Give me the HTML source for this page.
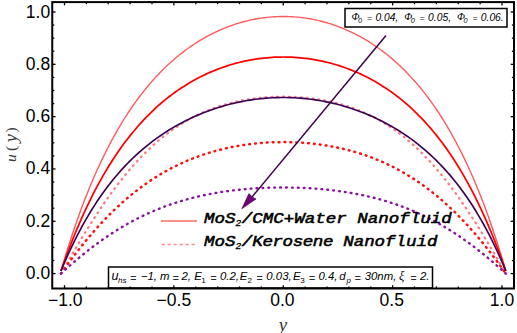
<!DOCTYPE html>
<html><head><meta charset="utf-8"><style>
html,body{margin:0;padding:0;background:#fff;}
body{width:517px;height:333px;overflow:hidden;position:relative;}
svg{position:absolute;left:0;top:0;}
</style></head><body>
<svg width="517" height="333" viewBox="0 0 517 333">
<rect width="517" height="333" fill="#fff"/>
<g font-family="Liberation Sans, sans-serif" font-size="17.5" fill="#000"><text x="50.2" y="279.10" text-anchor="end">0.0</text><text x="50.2" y="226.78" text-anchor="end">0.2</text><text x="50.2" y="174.46" text-anchor="end">0.4</text><text x="50.2" y="122.14" text-anchor="end">0.6</text><text x="50.2" y="69.82" text-anchor="end">0.8</text><text x="50.2" y="17.50" text-anchor="end">1.0</text><text x="65.30" y="305.5" text-anchor="middle">−1.0</text><text x="173.88" y="305.5" text-anchor="middle">−0.5</text><text x="282.35" y="305.5" text-anchor="middle">0.0</text><text x="391.73" y="305.5" text-anchor="middle">0.5</text><text x="502.00" y="305.5" text-anchor="middle">1.0</text></g>
<path d="M61.00,273.60 L63.78,268.74 L66.56,263.90 L69.34,259.09 L72.12,254.32 L74.90,249.58 L77.68,244.89 L80.46,240.24 L83.24,235.65 L86.02,231.12 L88.80,226.64 L91.58,222.24 L94.36,217.90 L97.14,213.63 L99.92,209.44 L102.70,205.32 L105.48,201.28 L108.26,197.32 L111.04,193.44 L113.82,189.65 L116.60,185.94 L119.38,182.32 L122.16,178.78 L124.94,175.33 L127.72,171.97 L130.50,168.69 L133.28,165.51 L136.06,162.41 L138.84,159.40 L141.62,156.47 L144.40,153.64 L147.18,150.89 L149.96,148.23 L152.74,145.65 L155.52,143.15 L158.30,140.74 L161.08,138.41 L163.86,136.17 L166.64,134.00 L169.42,131.91 L172.20,129.90 L174.98,127.97 L177.76,126.11 L180.54,124.32 L183.32,122.61 L186.10,120.97 L188.88,119.39 L191.66,117.88 L194.44,116.44 L197.22,115.07 L200.00,113.75 L202.78,112.50 L205.56,111.30 L208.34,110.17 L211.12,109.09 L213.90,108.06 L216.68,107.09 L219.46,106.17 L222.24,105.30 L225.02,104.48 L227.80,103.71 L230.58,102.99 L233.36,102.31 L236.14,101.67 L238.92,101.08 L241.70,100.53 L244.48,100.02 L247.26,99.55 L250.04,99.11 L252.82,98.72 L255.60,98.36 L258.38,98.04 L261.16,97.76 L263.94,97.51 L266.72,97.29 L269.50,97.11 L272.28,96.96 L275.06,96.85 L277.84,96.77 L280.62,96.72 L283.40,96.70 L286.18,96.72 L288.96,96.77 L291.74,96.85 L294.52,96.96 L297.30,97.11 L300.08,97.29 L302.86,97.51 L305.64,97.76 L308.42,98.04 L311.20,98.36 L313.98,98.72 L316.76,99.11 L319.54,99.55 L322.32,100.02 L325.10,100.53 L327.88,101.08 L330.66,101.67 L333.44,102.31 L336.22,102.99 L339.00,103.71 L341.78,104.48 L344.56,105.30 L347.34,106.17 L350.12,107.09 L352.90,108.06 L355.68,109.09 L358.46,110.17 L361.24,111.30 L364.02,112.50 L366.80,113.75 L369.58,115.07 L372.36,116.44 L375.14,117.88 L377.92,119.39 L380.70,120.97 L383.48,122.61 L386.26,124.32 L389.04,126.11 L391.82,127.97 L394.60,129.90 L397.38,131.91 L400.16,134.00 L402.94,136.17 L405.72,138.41 L408.50,140.74 L411.28,143.15 L414.06,145.65 L416.84,148.23 L419.62,150.89 L422.40,153.64 L425.18,156.47 L427.96,159.40 L430.74,162.41 L433.52,165.51 L436.30,168.69 L439.08,171.97 L441.86,175.33 L444.64,178.78 L447.42,182.32 L450.20,185.94 L452.98,189.65 L455.76,193.44 L458.54,197.32 L461.32,201.28 L464.10,205.32 L466.88,209.44 L469.66,213.63 L472.44,217.90 L475.22,222.24 L478.00,226.64 L480.78,231.12 L483.56,235.65 L486.34,240.24 L489.12,244.89 L491.90,249.58 L494.68,254.32 L497.46,259.09 L500.24,263.90 L503.02,268.74 L505.80,273.60" fill="none" stroke="#ff7884" stroke-width="2.25" stroke-dasharray="0.8 5.1" stroke-linecap="round"/><path d="M61.00,273.60 L63.78,269.65 L66.56,265.78 L69.34,261.97 L72.12,258.22 L74.90,254.55 L77.68,250.94 L80.46,247.41 L83.24,243.94 L86.02,240.54 L88.80,237.22 L91.58,233.96 L94.36,230.77 L97.14,227.65 L99.92,224.60 L102.70,221.61 L105.48,218.70 L108.26,215.85 L111.04,213.07 L113.82,210.36 L116.60,207.72 L119.38,205.14 L122.16,202.63 L124.94,200.18 L127.72,197.79 L130.50,195.47 L133.28,193.22 L136.06,191.02 L138.84,188.89 L141.62,186.81 L144.40,184.80 L147.18,182.85 L149.96,180.95 L152.74,179.11 L155.52,177.33 L158.30,175.60 L161.08,173.93 L163.86,172.31 L166.64,170.74 L169.42,169.23 L172.20,167.77 L174.98,166.36 L177.76,164.99 L180.54,163.68 L183.32,162.41 L186.10,161.19 L188.88,160.02 L191.66,158.89 L194.44,157.80 L197.22,156.76 L200.00,155.76 L202.78,154.80 L205.56,153.88 L208.34,153.00 L211.12,152.16 L213.90,151.36 L216.68,150.60 L219.46,149.87 L222.24,149.18 L225.02,148.53 L227.80,147.91 L230.58,147.32 L233.36,146.77 L236.14,146.25 L238.92,145.77 L241.70,145.31 L244.48,144.89 L247.26,144.50 L250.04,144.14 L252.82,143.81 L255.60,143.51 L258.38,143.24 L261.16,143.00 L263.94,142.79 L266.72,142.60 L269.50,142.45 L272.28,142.32 L275.06,142.23 L277.84,142.16 L280.62,142.11 L283.40,142.10 L286.18,142.11 L288.96,142.16 L291.74,142.23 L294.52,142.32 L297.30,142.45 L300.08,142.60 L302.86,142.79 L305.64,143.00 L308.42,143.24 L311.20,143.51 L313.98,143.81 L316.76,144.14 L319.54,144.50 L322.32,144.89 L325.10,145.31 L327.88,145.77 L330.66,146.25 L333.44,146.77 L336.22,147.32 L339.00,147.91 L341.78,148.53 L344.56,149.18 L347.34,149.87 L350.12,150.60 L352.90,151.36 L355.68,152.16 L358.46,153.00 L361.24,153.88 L364.02,154.80 L366.80,155.76 L369.58,156.76 L372.36,157.80 L375.14,158.89 L377.92,160.02 L380.70,161.19 L383.48,162.41 L386.26,163.68 L389.04,164.99 L391.82,166.36 L394.60,167.77 L397.38,169.23 L400.16,170.74 L402.94,172.31 L405.72,173.93 L408.50,175.60 L411.28,177.33 L414.06,179.11 L416.84,180.95 L419.62,182.85 L422.40,184.80 L425.18,186.81 L427.96,188.89 L430.74,191.02 L433.52,193.22 L436.30,195.47 L439.08,197.79 L441.86,200.18 L444.64,202.63 L447.42,205.14 L450.20,207.72 L452.98,210.36 L455.76,213.07 L458.54,215.85 L461.32,218.70 L464.10,221.61 L466.88,224.60 L469.66,227.65 L472.44,230.77 L475.22,233.96 L478.00,237.22 L480.78,240.54 L483.56,243.94 L486.34,247.41 L489.12,250.94 L491.90,254.55 L494.68,258.22 L497.46,261.97 L500.24,265.78 L503.02,269.65 L505.80,273.60" fill="none" stroke="#ff1010" stroke-width="2.5" stroke-dasharray="0.8 5.1" stroke-linecap="round"/><path d="M61.00,273.60 L63.78,271.06 L66.56,268.56 L69.34,266.09 L72.12,263.66 L74.90,261.26 L77.68,258.91 L80.46,256.59 L83.24,254.32 L86.02,252.09 L88.80,249.89 L91.58,247.74 L94.36,245.64 L97.14,243.57 L99.92,241.55 L102.70,239.57 L105.48,237.64 L108.26,235.75 L111.04,233.90 L113.82,232.10 L116.60,230.34 L119.38,228.62 L122.16,226.95 L124.94,225.32 L127.72,223.74 L130.50,222.19 L133.28,220.69 L136.06,219.23 L138.84,217.82 L141.62,216.44 L144.40,215.11 L147.18,213.81 L149.96,212.56 L152.74,211.34 L155.52,210.16 L158.30,209.02 L161.08,207.92 L163.86,206.86 L166.64,205.83 L169.42,204.84 L172.20,203.88 L174.98,202.96 L177.76,202.07 L180.54,201.21 L183.32,200.39 L186.10,199.60 L188.88,198.83 L191.66,198.10 L194.44,197.40 L197.22,196.73 L200.00,196.09 L202.78,195.48 L205.56,194.89 L208.34,194.33 L211.12,193.80 L213.90,193.29 L216.68,192.80 L219.46,192.34 L222.24,191.91 L225.02,191.50 L227.80,191.11 L230.58,190.74 L233.36,190.39 L236.14,190.07 L238.92,189.77 L241.70,189.49 L244.48,189.22 L247.26,188.98 L250.04,188.76 L252.82,188.55 L255.60,188.37 L258.38,188.20 L261.16,188.05 L263.94,187.92 L266.72,187.81 L269.50,187.72 L272.28,187.64 L275.06,187.58 L277.84,187.53 L280.62,187.51 L283.40,187.50 L286.18,187.51 L288.96,187.53 L291.74,187.58 L294.52,187.64 L297.30,187.72 L300.08,187.81 L302.86,187.92 L305.64,188.05 L308.42,188.20 L311.20,188.37 L313.98,188.55 L316.76,188.76 L319.54,188.98 L322.32,189.22 L325.10,189.49 L327.88,189.77 L330.66,190.07 L333.44,190.39 L336.22,190.74 L339.00,191.11 L341.78,191.50 L344.56,191.91 L347.34,192.34 L350.12,192.80 L352.90,193.29 L355.68,193.80 L358.46,194.33 L361.24,194.89 L364.02,195.48 L366.80,196.09 L369.58,196.73 L372.36,197.40 L375.14,198.10 L377.92,198.83 L380.70,199.60 L383.48,200.39 L386.26,201.21 L389.04,202.07 L391.82,202.96 L394.60,203.88 L397.38,204.84 L400.16,205.83 L402.94,206.86 L405.72,207.92 L408.50,209.02 L411.28,210.16 L414.06,211.34 L416.84,212.56 L419.62,213.81 L422.40,215.11 L425.18,216.44 L427.96,217.82 L430.74,219.23 L433.52,220.69 L436.30,222.19 L439.08,223.74 L441.86,225.32 L444.64,226.95 L447.42,228.62 L450.20,230.34 L452.98,232.10 L455.76,233.90 L458.54,235.75 L461.32,237.64 L464.10,239.57 L466.88,241.55 L469.66,243.57 L472.44,245.64 L475.22,247.74 L478.00,249.89 L480.78,252.09 L483.56,254.32 L486.34,256.59 L489.12,258.91 L491.90,261.26 L494.68,263.66 L497.46,266.09 L500.24,268.56 L503.02,271.06 L505.80,273.60" fill="none" stroke="#8a12a0" stroke-width="2.4" stroke-dasharray="0.8 5.1" stroke-linecap="round"/><path d="M61.00,270.90 L63.78,261.45 L66.56,252.31 L69.34,243.48 L72.12,234.95 L74.90,226.71 L77.68,218.75 L80.46,211.05 L83.24,203.62 L86.02,196.43 L88.80,189.49 L91.58,182.77 L94.36,176.29 L97.14,170.02 L99.92,163.96 L102.70,158.10 L105.48,152.44 L108.26,146.97 L111.04,141.67 L113.82,136.56 L116.60,131.62 L119.38,126.83 L122.16,122.21 L124.94,117.75 L127.72,113.43 L130.50,109.25 L133.28,105.21 L136.06,101.31 L138.84,97.53 L141.62,93.89 L144.40,90.36 L147.18,86.95 L149.96,83.65 L152.74,80.47 L155.52,77.39 L158.30,74.42 L161.08,71.54 L163.86,68.77 L166.64,66.09 L169.42,63.50 L172.20,61.00 L174.98,58.59 L177.76,56.26 L180.54,54.02 L183.32,51.86 L186.10,49.77 L188.88,47.77 L191.66,45.83 L194.44,43.97 L197.22,42.18 L200.00,40.47 L202.78,38.82 L205.56,37.23 L208.34,35.72 L211.12,34.27 L213.90,32.88 L216.68,31.55 L219.46,30.29 L222.24,29.08 L225.02,27.94 L227.80,26.85 L230.58,25.82 L233.36,24.85 L236.14,23.93 L238.92,23.07 L241.70,22.27 L244.48,21.51 L247.26,20.82 L250.04,20.17 L252.82,19.58 L255.60,19.05 L258.38,18.56 L261.16,18.13 L263.94,17.74 L266.72,17.41 L269.50,17.13 L272.28,16.91 L275.06,16.73 L277.84,16.60 L280.62,16.53 L283.40,16.50 L286.18,16.53 L288.96,16.60 L291.74,16.73 L294.52,16.91 L297.30,17.13 L300.08,17.41 L302.86,17.74 L305.64,18.13 L308.42,18.56 L311.20,19.05 L313.98,19.58 L316.76,20.17 L319.54,20.82 L322.32,21.51 L325.10,22.27 L327.88,23.07 L330.66,23.93 L333.44,24.85 L336.22,25.82 L339.00,26.85 L341.78,27.94 L344.56,29.08 L347.34,30.29 L350.12,31.55 L352.90,32.88 L355.68,34.27 L358.46,35.72 L361.24,37.23 L364.02,38.82 L366.80,40.47 L369.58,42.18 L372.36,43.97 L375.14,45.83 L377.92,47.77 L380.70,49.77 L383.48,51.86 L386.26,54.02 L389.04,56.26 L391.82,58.59 L394.60,61.00 L397.38,63.50 L400.16,66.09 L402.94,68.77 L405.72,71.54 L408.50,74.42 L411.28,77.39 L414.06,80.47 L416.84,83.65 L419.62,86.95 L422.40,90.36 L425.18,93.89 L427.96,97.53 L430.74,101.31 L433.52,105.21 L436.30,109.25 L439.08,113.43 L441.86,117.75 L444.64,122.21 L447.42,126.83 L450.20,131.62 L452.98,136.56 L455.76,141.67 L458.54,146.97 L461.32,152.44 L464.10,158.10 L466.88,163.96 L469.66,170.02 L472.44,176.29 L475.22,182.77 L478.00,189.49 L480.78,196.43 L483.56,203.62 L486.34,211.05 L489.12,218.75 L491.90,226.71 L494.68,234.95 L497.46,243.48 L500.24,252.31 L503.02,261.45 L505.80,270.90" fill="none" stroke="#ff5a5e" stroke-width="1.4"/><path d="M61.00,270.90 L63.78,263.02 L66.56,255.40 L69.34,248.02 L72.12,240.90 L74.90,234.00 L77.68,227.33 L80.46,220.89 L83.24,214.65 L86.02,208.62 L88.80,202.79 L91.58,197.15 L94.36,191.70 L97.14,186.42 L99.92,181.32 L102.70,176.39 L105.48,171.61 L108.26,167.00 L111.04,162.54 L113.82,158.22 L116.60,154.05 L119.38,150.01 L122.16,146.11 L124.94,142.33 L127.72,138.68 L130.50,135.15 L133.28,131.74 L136.06,128.44 L138.84,125.25 L141.62,122.16 L144.40,119.18 L147.18,116.30 L149.96,113.51 L152.74,110.82 L155.52,108.21 L158.30,105.70 L161.08,103.27 L163.86,100.93 L166.64,98.66 L169.42,96.48 L172.20,94.37 L174.98,92.33 L177.76,90.37 L180.54,88.48 L183.32,86.65 L186.10,84.90 L188.88,83.21 L191.66,81.58 L194.44,80.01 L197.22,78.51 L200.00,77.06 L202.78,75.68 L205.56,74.35 L208.34,73.07 L211.12,71.86 L213.90,70.69 L216.68,69.58 L219.46,68.52 L222.24,67.51 L225.02,66.55 L227.80,65.64 L230.58,64.78 L233.36,63.97 L236.14,63.20 L238.92,62.48 L241.70,61.81 L244.48,61.18 L247.26,60.60 L250.04,60.06 L252.82,59.57 L255.60,59.12 L258.38,58.72 L261.16,58.35 L263.94,58.04 L266.72,57.76 L269.50,57.53 L272.28,57.34 L275.06,57.19 L277.84,57.08 L280.62,57.02 L283.40,57.00 L286.18,57.02 L288.96,57.08 L291.74,57.19 L294.52,57.34 L297.30,57.53 L300.08,57.76 L302.86,58.04 L305.64,58.35 L308.42,58.72 L311.20,59.12 L313.98,59.57 L316.76,60.06 L319.54,60.60 L322.32,61.18 L325.10,61.81 L327.88,62.48 L330.66,63.20 L333.44,63.97 L336.22,64.78 L339.00,65.64 L341.78,66.55 L344.56,67.51 L347.34,68.52 L350.12,69.58 L352.90,70.69 L355.68,71.86 L358.46,73.07 L361.24,74.35 L364.02,75.68 L366.80,77.06 L369.58,78.51 L372.36,80.01 L375.14,81.58 L377.92,83.21 L380.70,84.90 L383.48,86.65 L386.26,88.48 L389.04,90.37 L391.82,92.33 L394.60,94.37 L397.38,96.48 L400.16,98.66 L402.94,100.93 L405.72,103.27 L408.50,105.70 L411.28,108.21 L414.06,110.82 L416.84,113.51 L419.62,116.30 L422.40,119.18 L425.18,122.16 L427.96,125.25 L430.74,128.44 L433.52,131.74 L436.30,135.15 L439.08,138.68 L441.86,142.33 L444.64,146.11 L447.42,150.01 L450.20,154.05 L452.98,158.22 L455.76,162.54 L458.54,167.00 L461.32,171.61 L464.10,176.39 L466.88,181.32 L469.66,186.42 L472.44,191.70 L475.22,197.15 L478.00,202.79 L480.78,208.62 L483.56,214.65 L486.34,220.89 L489.12,227.33 L491.90,234.00 L494.68,240.90 L497.46,248.02 L500.24,255.40 L503.02,263.02 L505.80,270.90" fill="none" stroke="#ff0000" stroke-width="1.75"/><path d="M61.00,270.90 L63.78,264.28 L66.56,257.90 L69.34,251.75 L72.12,245.83 L74.90,240.13 L77.68,234.63 L80.46,229.33 L83.24,224.23 L86.02,219.30 L88.80,214.56 L91.58,209.98 L94.36,205.57 L97.14,201.31 L99.92,197.20 L102.70,193.24 L105.48,189.42 L108.26,185.73 L111.04,182.17 L113.82,178.73 L116.60,175.41 L119.38,172.20 L122.16,169.11 L124.94,166.12 L127.72,163.23 L130.50,160.43 L133.28,157.74 L136.06,155.13 L138.84,152.61 L141.62,150.17 L144.40,147.81 L147.18,145.53 L149.96,143.33 L152.74,141.20 L155.52,139.14 L158.30,137.15 L161.08,135.22 L163.86,133.36 L166.64,131.56 L169.42,129.82 L172.20,128.13 L174.98,126.51 L177.76,124.94 L180.54,123.42 L183.32,121.95 L186.10,120.54 L188.88,119.18 L191.66,117.86 L194.44,116.59 L197.22,115.37 L200.00,114.19 L202.78,113.06 L205.56,111.97 L208.34,110.93 L211.12,109.93 L213.90,108.97 L216.68,108.05 L219.46,107.17 L222.24,106.34 L225.02,105.54 L227.80,104.78 L230.58,104.06 L233.36,103.38 L236.14,102.74 L238.92,102.14 L241.70,101.57 L244.48,101.05 L247.26,100.55 L250.04,100.10 L252.82,99.68 L255.60,99.30 L258.38,98.96 L261.16,98.65 L263.94,98.38 L266.72,98.15 L269.50,97.95 L272.28,97.79 L275.06,97.66 L277.84,97.57 L280.62,97.52 L283.40,97.50 L286.18,97.52 L288.96,97.57 L291.74,97.66 L294.52,97.79 L297.30,97.95 L300.08,98.15 L302.86,98.38 L305.64,98.65 L308.42,98.96 L311.20,99.30 L313.98,99.68 L316.76,100.10 L319.54,100.55 L322.32,101.05 L325.10,101.57 L327.88,102.14 L330.66,102.74 L333.44,103.38 L336.22,104.06 L339.00,104.78 L341.78,105.54 L344.56,106.34 L347.34,107.17 L350.12,108.05 L352.90,108.97 L355.68,109.93 L358.46,110.93 L361.24,111.97 L364.02,113.06 L366.80,114.19 L369.58,115.37 L372.36,116.59 L375.14,117.86 L377.92,119.18 L380.70,120.54 L383.48,121.95 L386.26,123.42 L389.04,124.94 L391.82,126.51 L394.60,128.13 L397.38,129.82 L400.16,131.56 L402.94,133.36 L405.72,135.22 L408.50,137.15 L411.28,139.14 L414.06,141.20 L416.84,143.33 L419.62,145.53 L422.40,147.81 L425.18,150.17 L427.96,152.61 L430.74,155.13 L433.52,157.74 L436.30,160.43 L439.08,163.23 L441.86,166.12 L444.64,169.11 L447.42,172.20 L450.20,175.41 L452.98,178.73 L455.76,182.17 L458.54,185.73 L461.32,189.42 L464.10,193.24 L466.88,197.20 L469.66,201.31 L472.44,205.57 L475.22,209.98 L478.00,214.56 L480.78,219.30 L483.56,224.23 L486.34,229.33 L489.12,234.63 L491.90,240.13 L494.68,245.83 L497.46,251.75 L500.24,257.90 L503.02,264.28 L505.80,270.90" fill="none" stroke="#3c0052" stroke-width="1.65"/>
<!-- arrow -->
<line x1="386" y1="35.4" x2="252" y2="197" stroke="#3e0046" stroke-width="1.5"/>
<path d="M241.8,208.8 L248.9,193.5 L252.6,197.2 L256,199 Z" fill="#6e0072" stroke="#4a004e" stroke-width="0.6" stroke-linejoin="round"/>
<!-- top box -->
<rect x="345" y="8.5" width="162" height="18.5" fill="#fff" stroke="#000" stroke-width="1.5"/>
<text x="351.6" y="19.8" font-family="Liberation Serif, serif" font-style="italic" font-size="10.5">&#934;</text><text x="358.0" y="22.6" font-family="Liberation Sans, sans-serif" font-style="italic" font-size="7.2">0</text><text x="367.0" y="20.7" font-family="Liberation Sans, sans-serif" font-size="8.8" fill="#222">=</text><text x="375.4" y="20.8" font-family="Liberation Sans, sans-serif" font-style="italic" font-size="10.3">0.04,</text><text x="404.3" y="19.8" font-family="Liberation Serif, serif" font-style="italic" font-size="10.5">&#934;</text><text x="410.7" y="22.6" font-family="Liberation Sans, sans-serif" font-style="italic" font-size="7.2">0</text><text x="419.7" y="20.7" font-family="Liberation Sans, sans-serif" font-size="8.8" fill="#222">=</text><text x="428.1" y="20.8" font-family="Liberation Sans, sans-serif" font-style="italic" font-size="10.3">0.05,</text><text x="457.0" y="19.8" font-family="Liberation Serif, serif" font-style="italic" font-size="10.5">&#934;</text><text x="463.4" y="22.6" font-family="Liberation Sans, sans-serif" font-style="italic" font-size="7.2">0</text><text x="472.4" y="20.7" font-family="Liberation Sans, sans-serif" font-size="8.8" fill="#222">=</text><text x="480.8" y="20.8" font-family="Liberation Sans, sans-serif" font-style="italic" font-size="10.3">0.06.</text>
<!-- bottom box -->
<rect x="108.5" y="267" width="324" height="21" fill="#fff" stroke="#000" stroke-width="1.5"/>
<g class="bb" font-family="Liberation Sans, sans-serif" fill="#000"><text x="111.5" y="280.4" font-style="italic" font-size="12.5">u</text><text x="118.0" y="282.7" font-style="italic" font-size="8">hs</text><text x="130.2" y="281.5" font-size="10.6" fill="#2a2a2a">=</text><text x="140.8" y="280.4" font-style="italic" font-size="11.4">−1,</text><text x="160.0" y="280.4" font-style="italic" font-size="11.4">m</text><text x="172.7" y="281.5" font-size="10.6" fill="#2a2a2a">=</text><text x="181.5" y="280.4" font-style="italic" font-size="11.4">2,</text><text x="194.3" y="280.4" font-style="italic" font-size="11.4">E</text><text x="201.3" y="282.7" font-size="8">1</text><text x="210.4" y="281.5" font-size="10.6" fill="#2a2a2a">=</text><text x="219.9" y="280.4" font-style="italic" font-size="11.4">0.2,</text><text x="239.7" y="280.4" font-style="italic" font-size="11.4">E</text><text x="247.6" y="282.7" font-size="8">2</text><text x="256.4" y="281.5" font-size="10.6" fill="#2a2a2a">=</text><text x="266.3" y="280.4" font-style="italic" font-size="11.4">0.03,</text><text x="292.9" y="280.4" font-style="italic" font-size="11.4">E</text><text x="300.3" y="282.7" font-size="8">3</text><text x="309.1" y="281.5" font-size="10.6" fill="#2a2a2a">=</text><text x="318.4" y="280.4" font-style="italic" font-size="11.4">0.4,</text><text x="339.2" y="280.4" font-style="italic" font-size="11.4">d</text><text x="346.6" y="282.7" font-style="italic" font-size="8">p</text><text x="354.8" y="281.5" font-size="10.6" fill="#2a2a2a">=</text><text x="364.7" y="280.4" font-style="italic" font-size="11.4">30nm,</text><text x="399.1" y="280.4" font-family="Liberation Serif, serif" font-style="italic" font-size="12.5">ξ</text><text x="410.6" y="281.5" font-size="10.6" fill="#2a2a2a">=</text><text x="420.0" y="280.4" font-style="italic" font-size="11.4">2.</text></g>
<!-- legend -->
<line x1="161" y1="221" x2="197" y2="221" stroke="#ff6a6a" stroke-width="1.5"/>
<line x1="161.6" y1="244.5" x2="195.5" y2="244.5" stroke="#ff9090" stroke-width="1.4" stroke-dasharray="3.2 2.8"/>
<g font-family="Liberation Mono, monospace" font-style="italic" font-size="15.5" fill="#000" stroke="#000" stroke-width="0.55" transform="translate(204,0) scale(1.13,1)">
<text x="0" y="223.3">MoS<tspan font-size="8.5" stroke-width="0.3" dy="2.6">2</tspan><tspan dy="-2.6" dx="0.5">/CMC+Water Nanofluid</tspan></text>
<text x="0" y="246.3">MoS<tspan font-size="8.5" stroke-width="0.3" dy="2.6">2</tspan><tspan dy="-2.6" dx="0.5">/</tspan><tspan letter-spacing="-0.36">Kerosene </tspan><tspan>Nanofluid</tspan></text>
</g>
<g stroke="#000" stroke-width="1.3"><line x1="64.50" y1="288.5" x2="64.50" y2="285.2"/><line x1="64.50" y1="2.1" x2="64.50" y2="5.4"/><line x1="86.38" y1="288.5" x2="86.38" y2="286.4"/><line x1="86.38" y1="2.1" x2="86.38" y2="4.2"/><line x1="108.25" y1="288.5" x2="108.25" y2="286.4"/><line x1="108.25" y1="2.1" x2="108.25" y2="4.2"/><line x1="130.12" y1="288.5" x2="130.12" y2="286.4"/><line x1="130.12" y1="2.1" x2="130.12" y2="4.2"/><line x1="152.00" y1="288.5" x2="152.00" y2="286.4"/><line x1="152.00" y1="2.1" x2="152.00" y2="4.2"/><line x1="173.88" y1="288.5" x2="173.88" y2="285.2"/><line x1="173.88" y1="2.1" x2="173.88" y2="5.4"/><line x1="195.75" y1="288.5" x2="195.75" y2="286.4"/><line x1="195.75" y1="2.1" x2="195.75" y2="4.2"/><line x1="217.62" y1="288.5" x2="217.62" y2="286.4"/><line x1="217.62" y1="2.1" x2="217.62" y2="4.2"/><line x1="239.50" y1="288.5" x2="239.50" y2="286.4"/><line x1="239.50" y1="2.1" x2="239.50" y2="4.2"/><line x1="261.38" y1="288.5" x2="261.38" y2="286.4"/><line x1="261.38" y1="2.1" x2="261.38" y2="4.2"/><line x1="283.25" y1="288.5" x2="283.25" y2="285.2"/><line x1="283.25" y1="2.1" x2="283.25" y2="5.4"/><line x1="305.12" y1="288.5" x2="305.12" y2="286.4"/><line x1="305.12" y1="2.1" x2="305.12" y2="4.2"/><line x1="327.00" y1="288.5" x2="327.00" y2="286.4"/><line x1="327.00" y1="2.1" x2="327.00" y2="4.2"/><line x1="348.88" y1="288.5" x2="348.88" y2="286.4"/><line x1="348.88" y1="2.1" x2="348.88" y2="4.2"/><line x1="370.75" y1="288.5" x2="370.75" y2="286.4"/><line x1="370.75" y1="2.1" x2="370.75" y2="4.2"/><line x1="392.62" y1="288.5" x2="392.62" y2="285.2"/><line x1="392.62" y1="2.1" x2="392.62" y2="5.4"/><line x1="414.50" y1="288.5" x2="414.50" y2="286.4"/><line x1="414.50" y1="2.1" x2="414.50" y2="4.2"/><line x1="436.38" y1="288.5" x2="436.38" y2="286.4"/><line x1="436.38" y1="2.1" x2="436.38" y2="4.2"/><line x1="458.25" y1="288.5" x2="458.25" y2="286.4"/><line x1="458.25" y1="2.1" x2="458.25" y2="4.2"/><line x1="480.12" y1="288.5" x2="480.12" y2="286.4"/><line x1="480.12" y1="2.1" x2="480.12" y2="4.2"/><line x1="502.00" y1="288.5" x2="502.00" y2="285.2"/><line x1="502.00" y1="2.1" x2="502.00" y2="5.4"/><line x1="52.25" y1="273.60" x2="55.55" y2="273.60"/><line x1="514.0" y1="273.60" x2="510.7" y2="273.60"/><line x1="52.25" y1="260.52" x2="54.35" y2="260.52"/><line x1="514.0" y1="260.52" x2="511.9" y2="260.52"/><line x1="52.25" y1="247.44" x2="54.35" y2="247.44"/><line x1="514.0" y1="247.44" x2="511.9" y2="247.44"/><line x1="52.25" y1="234.36" x2="54.35" y2="234.36"/><line x1="514.0" y1="234.36" x2="511.9" y2="234.36"/><line x1="52.25" y1="221.28" x2="55.55" y2="221.28"/><line x1="514.0" y1="221.28" x2="510.7" y2="221.28"/><line x1="52.25" y1="208.20" x2="54.35" y2="208.20"/><line x1="514.0" y1="208.20" x2="511.9" y2="208.20"/><line x1="52.25" y1="195.12" x2="54.35" y2="195.12"/><line x1="514.0" y1="195.12" x2="511.9" y2="195.12"/><line x1="52.25" y1="182.04" x2="54.35" y2="182.04"/><line x1="514.0" y1="182.04" x2="511.9" y2="182.04"/><line x1="52.25" y1="168.96" x2="55.55" y2="168.96"/><line x1="514.0" y1="168.96" x2="510.7" y2="168.96"/><line x1="52.25" y1="155.88" x2="54.35" y2="155.88"/><line x1="514.0" y1="155.88" x2="511.9" y2="155.88"/><line x1="52.25" y1="142.80" x2="54.35" y2="142.80"/><line x1="514.0" y1="142.80" x2="511.9" y2="142.80"/><line x1="52.25" y1="129.72" x2="54.35" y2="129.72"/><line x1="514.0" y1="129.72" x2="511.9" y2="129.72"/><line x1="52.25" y1="116.64" x2="55.55" y2="116.64"/><line x1="514.0" y1="116.64" x2="510.7" y2="116.64"/><line x1="52.25" y1="103.56" x2="54.35" y2="103.56"/><line x1="514.0" y1="103.56" x2="511.9" y2="103.56"/><line x1="52.25" y1="90.48" x2="54.35" y2="90.48"/><line x1="514.0" y1="90.48" x2="511.9" y2="90.48"/><line x1="52.25" y1="77.40" x2="54.35" y2="77.40"/><line x1="514.0" y1="77.40" x2="511.9" y2="77.40"/><line x1="52.25" y1="64.32" x2="55.55" y2="64.32"/><line x1="514.0" y1="64.32" x2="510.7" y2="64.32"/><line x1="52.25" y1="51.24" x2="54.35" y2="51.24"/><line x1="514.0" y1="51.24" x2="511.9" y2="51.24"/><line x1="52.25" y1="38.16" x2="54.35" y2="38.16"/><line x1="514.0" y1="38.16" x2="511.9" y2="38.16"/><line x1="52.25" y1="25.08" x2="54.35" y2="25.08"/><line x1="514.0" y1="25.08" x2="511.9" y2="25.08"/><line x1="52.25" y1="12.00" x2="55.55" y2="12.00"/><line x1="514.0" y1="12.00" x2="510.7" y2="12.00"/></g>
<rect x="52.25" y="2.1" width="461.75" height="286.4" fill="none" stroke="#000" stroke-width="2"/>
<!-- axis labels -->
<text transform="translate(16,161.5) rotate(-90)" font-family="Liberation Serif, serif" font-style="italic" font-size="15.5" fill="#3a3a3a"><tspan x="-0.6">u</tspan><tspan x="10.5" font-style="normal">(</tspan><tspan x="19.3" dy="0.8" font-size="18.5">y</tspan><tspan x="29" dy="-0.8" font-style="normal">)</tspan></text>
<text x="283" y="330.5" text-anchor="middle" font-family="Liberation Serif, serif" font-style="italic" font-size="19" fill="#333">y</text>
</svg>
</body></html>
